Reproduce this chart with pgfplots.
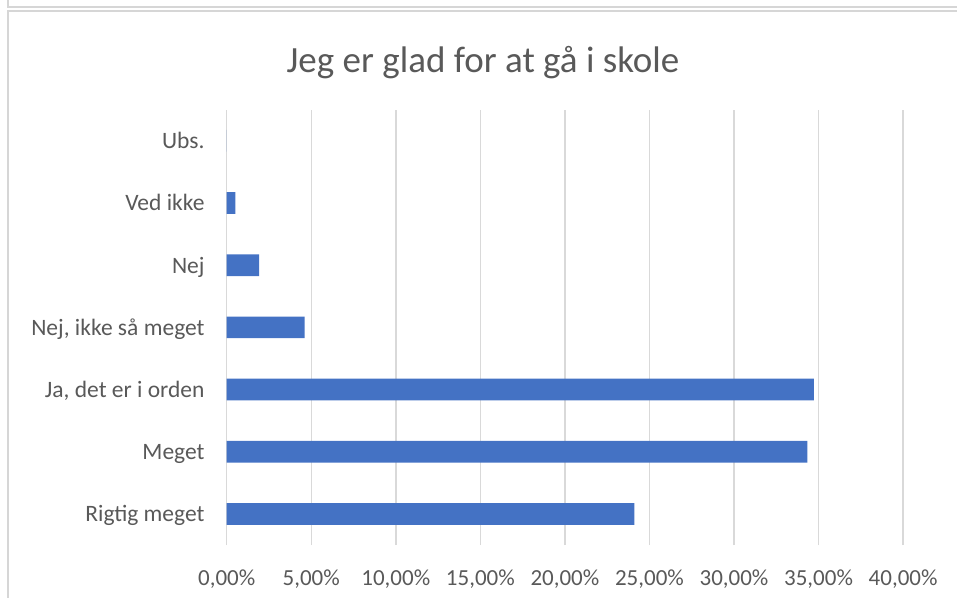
\documentclass[border=0pt]{standalone}
\usepackage{pgfplots}
\pgfplotsset{compat=1.18}
\usepackage{fontspec}
\setmainfont{Carlito}
\definecolor{barblue}{HTML}{4472C4}
\definecolor{gridgray}{HTML}{D9D9D9}
\definecolor{framegray}{HTML}{D6D6D6}
\definecolor{textgray}{HTML}{595959}
\begin{document}
\begin{tikzpicture}[x=1bp,y=1bp]
\useasboundingbox (0,0) rectangle (957,598);
% outer frames
\draw[framegray, line width=2bp] (8,598) -- (8,591.3) -- (957,591.3);
\draw[framegray, line width=2bp] (957,587.3) -- (8,587.3) -- (8,0);
% title
\node[anchor=base, text=textgray, font=\fontsize{37bp}{41bp}\selectfont, inner sep=0] at (483,525) {Jeg er glad for at gå i skole};
\begin{axis}[
  at={(226.7bp,52.9bp)}, anchor=south west,
  scale only axis, width=676.4bp, height=435.4bp,
  xbar, bar width=21.7bp,
  xmin=0, xmax=40, ymin=-0.5, ymax=6.5,
  xtick={0,5,...,40},
  xticklabels={{0,00\%},{5,00\%},{10,00\%},{15,00\%},{20,00\%},{25,00\%},{30,00\%},{35,00\%},{40,00\%}},
  ytick={0,...,6},
  yticklabels={Rigtig meget,Meget,{Ja, det er i orden},{Nej, ikke så meget},Nej,Ved ikke,Ubs.},
  axis line style={draw=none},
  major tick length=0,
  xmajorgrids, grid style={color=gridgray, line width=1.5bp},
  xticklabel style={anchor=base, yshift=-40bp, inner sep=0, text=textgray, font=\fontsize{23bp}{26bp}\selectfont},
  yticklabel style={anchor=base east, xshift=-22bp, yshift=-8bp, inner sep=0, text=textgray, font=\fontsize{23.5bp}{26bp}\selectfont},
  clip=false,
]
\addplot[fill=barblue, draw=none] coordinates {
  (24.11,0) (34.34,1) (34.73,2) (4.61,3) (1.91,4) (0.51,5) (0,6)
};
\end{axis}
\end{tikzpicture}
\end{document}
